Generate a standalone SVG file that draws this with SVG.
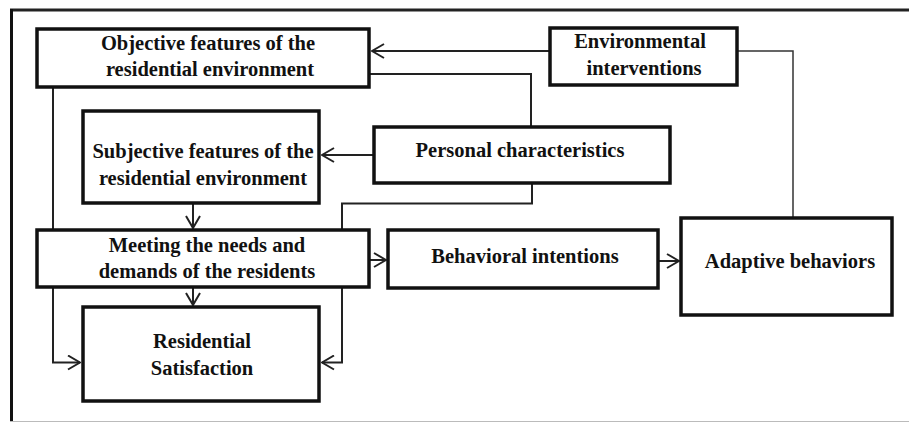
<svg xmlns="http://www.w3.org/2000/svg" width="909" height="423" viewBox="0 0 909 423">
<style>
.box{fill:#fff;stroke:#111;stroke-width:3.5}
.t{font-family:"Liberation Serif","Times New Roman",serif;font-weight:bold;font-size:20.5px;fill:#111;text-anchor:middle}
.c{fill:none;stroke:#222;stroke-width:2}
.thin{fill:none;stroke:#333;stroke-width:1.5}
</style>
<defs>
<marker id="arr" viewBox="0 0 14 16" refX="13" refY="8" markerWidth="14" markerHeight="16" markerUnits="userSpaceOnUse" orient="auto">
<path d="M1,1 L13,8 L1,15" fill="none" stroke="#222" stroke-width="2"/>
</marker>
</defs>
<rect width="909" height="423" fill="#fff"/>
<g id="frame">
<line x1="10" y1="10" x2="909" y2="10" stroke="#222" stroke-width="3"/>
<line x1="11.5" y1="9" x2="11.5" y2="422" stroke="#111" stroke-width="3"/>
<line x1="10" y1="421.5" x2="909" y2="421.5" stroke="#bbb" stroke-width="1"/>
</g>
<g id="connectors">
<path class="c" d="M550,51 H372" marker-end="url(#arr)"/>
<path class="c" d="M369,74 H531 V127"/>
<path class="c" d="M374,155 H322" marker-end="url(#arr)"/>
<path class="c" d="M532,183 V203.5 H342 V362.5 H322" marker-end="url(#arr)"/>
<path class="c" d="M53,87 V362.5 H80" marker-end="url(#arr)"/>
<path class="c" d="M193,203 V228" marker-end="url(#arr)"/>
<path class="c" d="M193,287 V305" marker-end="url(#arr)"/>
<path class="c" d="M369,260 H386" marker-end="url(#arr)"/>
<path class="c" d="M658,261 H679" marker-end="url(#arr)"/>
<path class="thin" d="M737,51 H793 V218"/>
</g>
<g id="objective">
<rect class="box" x="37" y="29" width="332" height="58"/>
<text class="t" x="208" y="50">Objective features of the</text>
<text class="t" x="210" y="76">residential environment</text>
</g>
<g id="environmental">
<rect class="box" x="550" y="28" width="187" height="57"/>
<text class="t" x="640" y="48">Environmental</text>
<text class="t" x="644" y="75">interventions</text>
</g>
<g id="subjective">
<rect class="box" x="83" y="111" width="236" height="92"/>
<text class="t" x="203" y="158">Subjective features of the</text>
<text class="t" x="203" y="185">residential environment</text>
</g>
<g id="personal">
<rect class="box" x="374" y="127" width="296" height="56"/>
<text class="t" x="520" y="157">Personal characteristics</text>
</g>
<g id="meeting">
<rect class="box" x="37" y="230" width="332" height="57"/>
<text class="t" x="207" y="252">Meeting the needs and</text>
<text class="t" x="207" y="278">demands of the residents</text>
</g>
<g id="behavioral">
<rect class="box" x="388" y="230" width="270" height="58"/>
<text class="t" x="525" y="263">Behavioral intentions</text>
</g>
<g id="adaptive">
<rect class="box" x="681" y="218" width="211" height="97"/>
<text class="t" x="790" y="268">Adaptive behaviors</text>
</g>
<g id="satisfaction">
<rect class="box" x="83" y="307" width="236" height="94"/>
<text class="t" x="202" y="348">Residential</text>
<text class="t" x="202" y="375">Satisfaction</text>
</g>
</svg>
